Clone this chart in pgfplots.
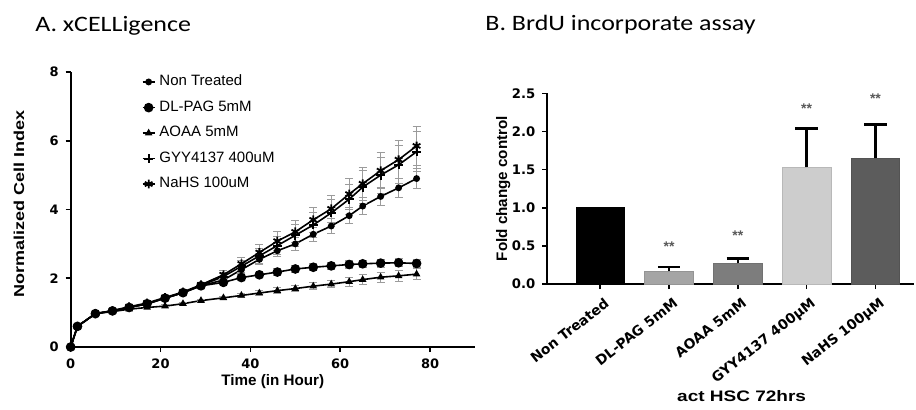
\documentclass[border=0pt]{standalone}
\usepackage{pgfplots}
\pgfplotsset{compat=1.18}
\usepackage{graphicx}
\usepackage{fontspec}
\setmainfont{Liberation Sans}
\newfontfamily\titlefont{Carlito}
\newfontfamily\tickfont{DejaVu Sans}
\newcommand\wide[1]{\scalebox{1.25}[1]{#1}}

\definecolor{errgray}{RGB}{155,155,155}
\definecolor{barA}{RGB}{0,0,0}
\definecolor{barB}{RGB}{165,165,165}
\definecolor{barC}{RGB}{125,125,125}
\definecolor{barD}{RGB}{205,205,205}
\definecolor{barE}{RGB}{92,92,92}

% time course: t, mean, sd
\pgfplotstableread{
t    nt    ntE   pag   pagE  aoaa  aoaaE  gyy   gyyE  nahs  nahsE
0    0.00  0.00  0.00  0.00  0.00  0.00   0.00  0.00  0.00  0.00
1.5  0.60  0.02  0.60  0.02  0.60  0.02   0.60  0.02  0.60  0.02
5.5  0.97  0.03  0.97  0.03  0.97  0.03   0.97  0.03  0.97  0.03
9.3  1.05  0.03  1.05  0.03  1.03  0.03   1.05  0.03  1.06  0.03
13   1.15  0.04  1.15  0.04  1.10  0.03   1.15  0.04  1.17  0.04
17   1.25  0.04  1.26  0.04  1.15  0.03   1.26  0.05  1.28  0.05
21   1.42  0.05  1.42  0.05  1.19  0.04   1.42  0.06  1.44  0.06
25   1.58  0.05  1.58  0.05  1.26  0.04   1.58  0.07  1.60  0.07
29   1.78  0.06  1.78  0.06  1.35  0.04   1.79  0.08  1.81  0.08
34   1.95  0.08  1.88  0.07  1.43  0.05   2.05  0.12  2.10  0.12
38   2.25  0.12  2.02  0.08  1.50  0.06   2.35  0.17  2.42  0.18
42   2.55  0.14  2.10  0.08  1.57  0.07   2.65  0.22  2.75  0.22
46   2.80  0.16  2.18  0.09  1.64  0.08   2.95  0.27  3.08  0.27
50   3.00  0.18  2.27  0.09  1.70  0.09   3.25  0.32  3.35  0.32
54   3.28  0.20  2.32  0.10  1.77  0.10   3.55  0.36  3.70  0.37
58   3.52  0.22  2.36  0.10  1.83  0.11   3.90  0.40  4.02  0.40
62   3.82  0.24  2.40  0.11  1.90  0.13   4.30  0.44  4.45  0.45
65   4.10  0.25  2.42  0.11  1.96  0.14   4.65  0.48  4.75  0.48
69   4.38  0.27  2.44  0.12  2.03  0.15   5.00  0.52  5.13  0.52
73   4.63  0.28  2.45  0.12  2.07  0.16   5.30  0.55  5.45  0.55
77   4.90  0.30  2.43  0.12  2.12  0.17   5.68  0.58  5.85  0.56
}\growth

% BrdU: x, mean, sd
\pgfplotstableread{
x  y     e
0  1.00  0.00
1  0.17  0.055
2  0.27  0.065
3  1.53  0.51
4  1.65  0.44
}\brdu

\pgfplotstableread{
x  y     lab
1  0.49  **
2  0.63  **
3  2.30  **
4  2.43  **
}\stars

\begin{document}
\begin{tikzpicture}
\path[use as bounding box] (0,0) rectangle (458pt,204.5pt);

\node[anchor=base west, inner sep=0pt, font=\titlefont\fontsize{11}{13}\selectfont] at (17.5pt,188.7pt) {\scalebox{1.18}[1]{A. xCELLigence}};
\node[anchor=base west, inner sep=0pt, font=\titlefont\fontsize{11}{13}\selectfont] at (242.5pt,189.3pt) {\scalebox{1.18}[1]{B. BrdU incorporate assay}};

% ---------- A ----------
\begin{axis}[
  at={(35.35pt,31pt)}, anchor=south west,
  scale only axis, width=202.15pt, height=137.5pt,
  xmin=0, xmax=90, ymin=0, ymax=8,
  axis x line*=bottom, axis y line*=left,
  axis line style={-, line width=1pt},
  xtick={0,20,40,60,80}, ytick={0,2,4,6,8},
  tick align=outside, major tick length=2.5pt,
  tick style={black, line width=0.8pt},
  /pgf/number format/assume math mode=true,
  ticklabel style={font=\tickfont\bfseries\fontsize{6.5}{7}\selectfont},
  xlabel={\bfseries Time (in Hour)},
  ylabel={\bfseries\wide{Normalized Cell Index}},
  xlabel style={font=\bfseries\fontsize{7.6}{8}\selectfont, at={(axis description cs:0.5,-0.075)}, anchor=north},
  ylabel style={font=\bfseries\fontsize{7.2}{8}\selectfont, at={(axis description cs:-0.128,0.52)}, anchor=center},
  clip=false,
  legend cell align=left,
  legend style={draw=none, fill=none, at={(axis description cs:0.175,1.005)}, anchor=north west,
    font=\fontsize{7.5}{8}\selectfont, row sep=2pt, inner sep=0pt},
  legend image code/.code={\draw[mark repeat=2,mark phase=2,#1] plot coordinates {(0pt,0pt) (3pt,0pt) (6pt,0pt)};},
  every axis plot/.append style={black, line width=0.8pt},
  error bars/error bar style={errgray, line width=0.5pt},
  error bars/error mark options={errgray, rotate=90, mark size=2pt, line width=0.5pt},
]
\addplot[mark=*, mark size=1.3pt, error bars/.cd, y dir=both, y explicit]
  table[x=t, y=nt, y error=ntE] {\growth};
\addlegendentry{Non Treated}
\addplot[mark=*, mark size=2pt, error bars/.cd, y dir=both, y explicit]
  table[x=t, y=pag, y error=pagE] {\growth};
\addlegendentry{DL-PAG 5mM}
\addplot[mark=triangle*, mark size=1.4pt, error bars/.cd, y dir=both, y explicit]
  table[x=t, y=aoaa, y error=aoaaE] {\growth};
\addlegendentry{AOAA 5mM}
\addplot[mark=+, mark size=2.2pt, mark options={line width=1pt}, error bars/.cd, y dir=both, y explicit]
  table[x=t, y=gyy, y error=gyyE] {\growth};
\addlegendentry{GYY4137 400uM}
\addplot[mark=asterisk, mark size=2.2pt, mark options={line width=0.9pt}, error bars/.cd, y dir=both, y explicit]
  table[x=t, y=nahs, y error=nahsE] {\growth};
\addlegendentry{NaHS 100uM}
\end{axis}

% ---------- B ----------
\begin{axis}[
  at={(273.65pt,62.5pt)}, anchor=south west,
  scale only axis, width=183.35pt, height=95.35pt,
  xmin=-0.77, xmax=4.56, ymin=0, ymax=2.5,
  axis x line*=bottom, axis y line*=left,
  axis line style={-, line width=1pt},
  xtick={0,1,2,3,4},
  xticklabels={Non Treated, DL-PAG 5mM, AOAA 5mM, GYY4137 400μM, NaHS 100μM},
  ytick={0,0.5,1,1.5,2,2.5},
  yticklabel style={/pgf/number format/.cd, fixed, fixed zerofill, precision=1},
  tick align=outside, major tick length=2.5pt,
  tick style={black, line width=0.8pt},
  /pgf/number format/assume math mode=true,
  ticklabel style={font=\tickfont\bfseries\fontsize{6.6}{7}\selectfont},
  xticklabel style={font=\tickfont\bfseries\fontsize{6.9}{7}\selectfont, rotate=38, anchor=north east, inner sep=1pt, yshift=-3pt},
  xlabel={\bfseries\wide{act HSC 72hrs}},
  ylabel={\bfseries Fold change control},
  label style={font=\bfseries\fontsize{7.6}{8}\selectfont},
  xlabel style={at={(axis description cs:0.53,-0.52)}, anchor=north},
  ylabel style={at={(axis description cs:-0.12,0.5)}, anchor=center},
  clip=false,
  ybar, bar width=24.25pt,
  error bars/error bar style={black, line width=1.3pt},
  error bars/error mark options={black, rotate=90, mark size=5.6pt, line width=1.3pt},
]
\addplot[fill=barA, draw=barA, bar shift=0pt] table[x=x, y=y] {
x y
0 1.00
};
\addplot[fill=barB, draw=barB!90!black, bar shift=0pt, error bars/.cd, y dir=plus, y explicit]
  table[x=x, y=y, y error=e, skip coords between index={0}{1}, skip coords between index={2}{5}] {\brdu};
\addplot[fill=barC, draw=barC!90!black, bar shift=0pt, error bars/.cd, y dir=plus, y explicit]
  table[x=x, y=y, y error=e, skip coords between index={0}{2}, skip coords between index={3}{5}] {\brdu};
\addplot[fill=barD, draw=barD!90!black, bar shift=0pt, error bars/.cd, y dir=plus, y explicit]
  table[x=x, y=y, y error=e, skip coords between index={0}{3}, skip coords between index={4}{5}] {\brdu};
\addplot[fill=barE, draw=barE!90!black, bar shift=0pt, error bars/.cd, y dir=plus, y explicit]
  table[x=x, y=y, y error=e, skip coords between index={0}{4}] {\brdu};
\addplot[draw=none, fill=none, bar shift=0pt, nodes near coords, point meta=explicit symbolic,
  nodes near coords style={anchor=center, font=\bfseries\fontsize{7}{8}\selectfont, text=black!65}]
  table[x=x, y=y, meta=lab] {\stars};
\end{axis}
\end{tikzpicture}
\end{document}
